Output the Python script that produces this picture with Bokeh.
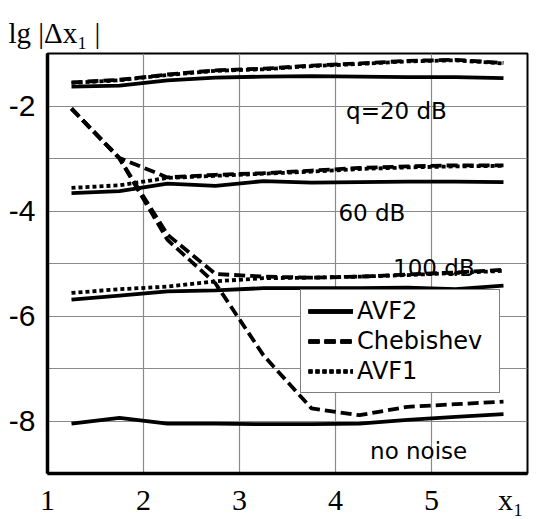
from bokeh.plotting import figure
from bokeh.models import Legend, LegendItem, FixedTicker, Range1d
from bokeh.core.properties import value
from bokeh.embed import file_html
from bokeh.resources import INLINE

# ---------------- data ----------------
x = [1.25, 1.75, 2.25, 2.75, 3.25, 3.75, 4.25, 4.75, 5.25, 5.75]

# AVF2 (solid)
avf2_20 = [-1.63, -1.61, -1.51, -1.46, -1.44, -1.43, -1.44, -1.45, -1.45, -1.47]
avf2_60 = [-3.66, -3.62, -3.48, -3.52, -3.43, -3.46, -3.45, -3.44, -3.44, -3.45]
avf2_100 = [-5.69, -5.61, -5.53, -5.51, -5.47, -5.47, -5.47, -5.46, -5.49, -5.42]
avf2_none = [-8.05, -7.94, -8.05, -8.05, -8.06, -8.06, -8.05, -7.98, -7.92, -7.87]

# Chebishev (dashed)
cheb_20 = [-1.55, -1.50, -1.40, -1.32, -1.29, -1.23, -1.19, -1.14, -1.12, -1.18]
cheb_60 = [-2.05, -2.99, -3.36, -3.31, -3.28, -3.23, -3.18, -3.15, -3.13, -3.13]
cheb_100 = [-2.05, -3.00, -4.45, -5.20, -5.25, -5.27, -5.25, -5.21, -5.17, -5.12]
cheb_none = [-2.05, -3.00, -4.55, -5.38, -6.75, -7.76, -7.89, -7.73, -7.68, -7.63]

# AVF1 (dotted)
avf1_20 = [-1.56, -1.51, -1.41, -1.33, -1.30, -1.24, -1.20, -1.15, -1.13, -1.19]
avf1_60 = [-3.56, -3.51, -3.37, -3.33, -3.29, -3.25, -3.20, -3.17, -3.15, -3.14]
avf1_100 = [-5.56, -5.49, -5.44, -5.34, -5.28, -5.27, -5.25, -5.22, -5.18, -5.14]

series_names = ["AVF2", "Chebishev", "AVF1"]

ann_text = ["q=20 dB", "60 dB", "100 dB", "no noise"]
ann_x = [4.11, 4.03, 4.60, 4.36]
ann_y = [-2.086, -4.04, -5.08, -8.575]

x_ticks = [1, 2, 3, 4, 5, 6]
x_tick_labels = {1: "1", 2: "2", 3: "3", 4: "4", 5: "5", 6: "x\u2081\u00a0\u00a0"}
y_ticks = [-2, -4, -6, -8]
y_tick_labels = {-2: "-2", -4: "-4", -6: "-6", -8: "-8"}
y_grid = [-8, -7, -6, -5, -4, -3, -2]
x_grid = [2, 3, 4, 5]

# ---------------- figure ----------------
p = figure(width=538, height=519, x_range=Range1d(1, 6), y_range=Range1d(-9, -1),
           output_backend="svg", toolbar_location=None,
           min_border_left=47, min_border_right=11, min_border_bottom=46, min_border_top=53)

p.background_fill_color = "white"
p.border_fill_color = "white"
p.outline_line_color = "black"
p.outline_line_width = 2

p.title.text = "lg |\u0394x\u2081 |"
p.title.text_font = "Liberation Serif"
p.title.text_font_size = "29px"
p.title.text_font_style = "normal"
p.title.text_color = "black"
p.title.align = "left"
p.title.offset = -39

# axes
p.xaxis.ticker = FixedTicker(ticks=x_ticks)
p.xaxis.major_label_overrides = x_tick_labels
p.xaxis.major_label_text_font = "Liberation Serif"
p.xaxis.major_label_text_font_size = "30px"
p.xaxis.major_label_text_color = "black"
p.xaxis.major_label_standoff = 9

p.yaxis.ticker = FixedTicker(ticks=y_ticks)
p.yaxis.major_label_overrides = y_tick_labels
p.yaxis.major_label_text_font = "Liberation Sans"
p.yaxis.major_label_text_font_size = "30px"
p.yaxis.major_label_text_color = "black"
p.yaxis.major_label_standoff = 12

for ax in (p.xaxis, p.yaxis):
    ax.axis_line_width = 3.5
    ax.axis_line_color = "black"
    ax.major_tick_in = 0
    ax.major_tick_out = 0
    ax.minor_tick_line_color = None

p.xgrid.ticker = FixedTicker(ticks=x_grid)
p.ygrid.ticker = FixedTicker(ticks=y_grid)
p.grid.visible = True
p.grid.grid_line_color = "#8a8a8a"
p.grid.grid_line_alpha = 1.0
p.grid.grid_line_width = 1.2

# lines
lw = 3.8
solid = [p.line(x, ys, line_color="black", line_width=lw)
         for ys in (avf2_20, avf2_60, avf2_100, avf2_none)]
dashed = [p.line(x, ys, line_color="black", line_width=lw, line_dash="11 5")
          for ys in (cheb_20, cheb_60, cheb_100, cheb_none)]
dotted = [p.line(x, ys, line_color="black", line_width=lw, line_dash="4 3")
          for ys in (avf1_20, avf1_60, avf1_100)]

# annotations
p.text(x=ann_x, y=ann_y, text=ann_text, text_font=value("DejaVu Sans"),
       text_font_size="23px", text_baseline="alphabetic", text_align="left",
       text_color="black")

legend = Legend(items=[LegendItem(label=series_names[0], renderers=solid),
                       LegendItem(label=series_names[1], renderers=dashed),
                       LegendItem(label=series_names[2], renderers=dotted)],
                location=(253, 80), orientation="vertical")
legend.label_text_font = "DejaVu Sans"
legend.label_text_font_size = "24px"
legend.label_text_color = "black"
legend.glyph_width = 45
legend.glyph_height = 26
legend.label_height = 26
legend.label_width = 135
legend.label_standoff = 4
legend.spacing = 2
legend.padding = 7
legend.margin = 0
legend.border_line_color = "black"
legend.border_line_width = 1.5
legend.background_fill_color = "white"
legend.background_fill_alpha = 1.0
p.add_layout(legend)

open("out.html", "w").write(file_html(p, INLINE))
